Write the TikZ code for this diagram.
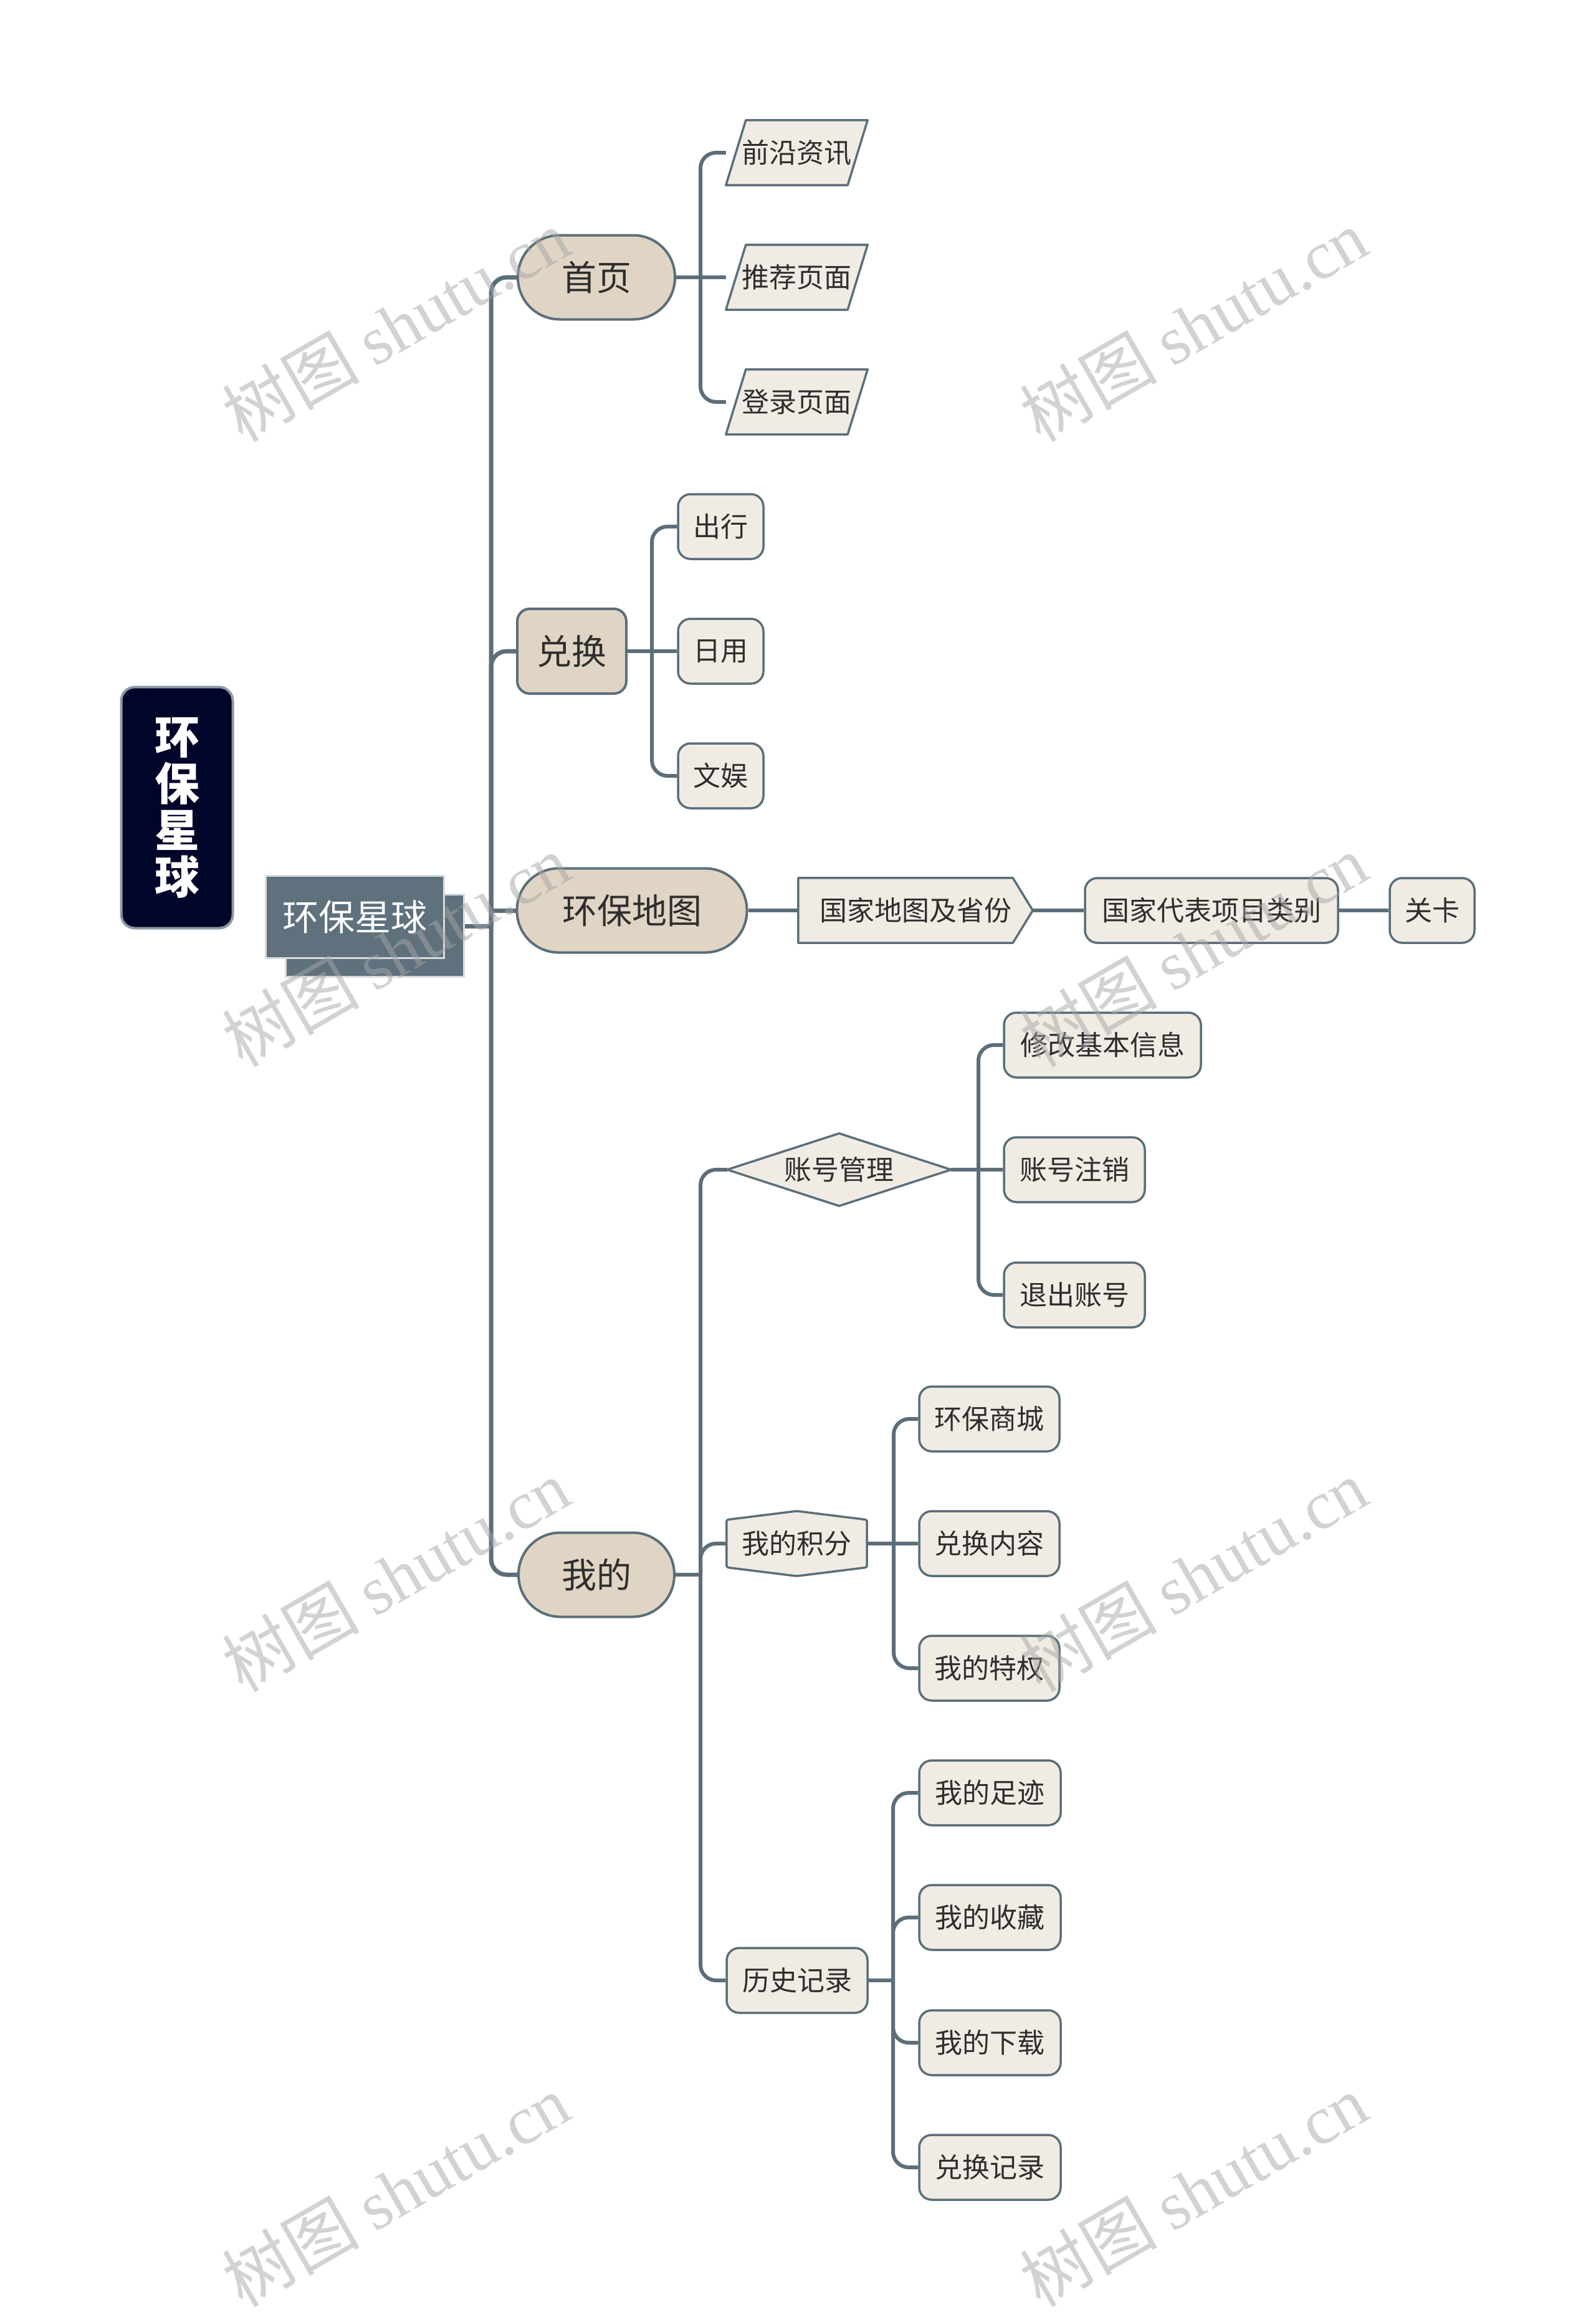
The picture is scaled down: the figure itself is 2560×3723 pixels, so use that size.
\documentclass[tikz,border=0pt]{standalone}
\usepackage{fontspec}
\setmainfont{Noto Sans CJK SC}
\newfontfamily\wmserif{Liberation Serif}
\usetikzlibrary{backgrounds}
\definecolor{slate}{HTML}{5B6E7A}
\definecolor{lonefill}{HTML}{E0D5C4}
\definecolor{ltwofill}{HTML}{F0ECE4}
\definecolor{navy}{HTML}{02052A}
\definecolor{txt}{HTML}{2E2E2E}
\definecolor{rootfill}{HTML}{5E717D}
\begin{document}
\begin{tikzpicture}[x=1pt,y=-1pt,
  conn/.style={draw=slate,line width=6pt,rounded corners=25pt},
  trunkline/.style={draw=slate,line width=7pt,rounded corners=25pt},
  lone/.style={fill=lonefill,draw=slate,line width=4pt,text=txt,font=\fontsize{56}{60}\selectfont,inner sep=0pt,minimum height=135pt},
  ltwo/.style={rectangle,rounded corners=20pt,fill=ltwofill,draw=slate,line width=3.5pt,text=txt,font=\fontsize{44}{48}\selectfont,minimum height=104pt,inner sep=0pt},
  ltwotxt/.style={text=txt,font=\fontsize{44}{48}\selectfont,minimum height=104pt,inner sep=0pt},
  shapeline/.style={fill=ltwofill,draw=slate,line width=3.5pt,line join=round},
  rootbox/.style={fill=rootfill,draw=white!75!rootfill,line width=3pt,minimum width=286pt,minimum height=132pt,inner sep=0pt,text=white,font=\fontsize{58}{62}\selectfont},
  wm/.style={text=black!35,text opacity=0.5,font=\fontsize{110}{120}\selectfont,rotate=30,inner sep=0pt}
]
\useasboundingbox (0,0) rectangle (2560,3723);
\begin{scope}[on background layer]
  \fill[white] (0,0) rectangle (2560,3723);
\end{scope}

% title
\node[fill=navy,draw=slate!70,line width=4pt,rounded corners=22pt,minimum width=179pt,minimum height=387pt,inner sep=0pt,text=white,align=center,font=\fontsize{72}{75}\selectfont\bfseries] (title) at (284,1296) {环\\保\\星\\球};

% root
\node[rootbox] (rootsh) at (601.5,1501) {};
\node[rootbox] (root) at (569.5,1471) {环保星球};

% level 1
\node[lone,rounded corners=67pt,minimum width=252pt] (home) at (957,445) {首页};
\node[lone,rounded corners=20pt,minimum width=175pt,minimum height=136pt] (exch) at (917.5,1045) {兑换};
\node[lone,rounded corners=67pt,minimum width=369pt] (map) at (1014,1461) {环保地图};
\node[lone,rounded corners=67pt,minimum width=250pt] (mine) at (957,2527) {我的};

% home children
\node[ltwotxt,minimum width=227pt] (news) at (1278.5,245) {前沿资讯};
\node[ltwotxt,minimum width=227pt] (recm) at (1278.5,445) {推荐页面};
\node[ltwotxt,minimum width=227pt] (login) at (1278.5,645) {登录页面};

% exchange children
\node[ltwo,minimum width=137pt] (travel) at (1156.5,845) {出行};
\node[ltwo,minimum width=137pt] (daily) at (1156.5,1045) {日用};
\node[ltwo,minimum width=137pt] (ent) at (1156.5,1245) {文娱};

% map chain
\node[ltwotxt,minimum width=376pt] (prov) at (1469,1461) {国家地图及省份};
\node[ltwo,minimum width=406pt] (cat) at (1944,1461) {国家代表项目类别};
\node[ltwo,minimum width=136pt] (level) at (2298,1461) {关卡};

% account
\node[ltwotxt,minimum width=359pt,minimum height=116pt] (acct) at (1346.5,1877) {账号管理};
\node[ltwo,minimum width=316pt] (edit) at (1769,1677) {修改基本信息};
\node[ltwo,minimum width=226pt] (cancel) at (1724,1877) {账号注销};
\node[ltwo,minimum width=226pt] (logout) at (1724,2078) {退出账号};

% points
\node[ltwotxt,minimum width=225pt] (pts) at (1278.5,2477) {我的积分};
\node[ltwo,minimum width=225pt] (mall) at (1587.5,2277) {环保商城};
\node[ltwo,minimum width=225pt] (cont) at (1587.5,2477) {兑换内容};
\node[ltwo,minimum width=225pt] (priv) at (1587.5,2677) {我的特权};

% history
\node[ltwo,minimum width=226pt] (hist) at (1279,3178) {历史记录};
\node[ltwo,minimum width=227pt] (foot) at (1588.5,2877) {我的足迹};
\node[ltwo,minimum width=227pt] (fav) at (1588.5,3077) {我的收藏};
\node[ltwo,minimum width=227pt] (down) at (1588.5,3278) {我的下载};
\node[ltwo,minimum width=227pt] (rec) at (1588.5,3478) {兑换记录};

\begin{scope}[on background layer]
  % special shapes
  \foreach \n in {news,recm,login}{
    \path[shapeline] ([xshift=32pt]\n.north west) -- (\n.north east) -- ([xshift=-32pt]\n.south east) -- (\n.south west) -- cycle;
  }
  \path[shapeline] (prov.north west) -- ([xshift=-32pt]prov.north east) -- (prov.east) -- ([xshift=-32pt]prov.south east) -- (prov.south west) -- cycle;
  \path[shapeline] (acct.west) -- (acct.north) -- (acct.east) -- (acct.south) -- cycle;
  \path[shapeline,rounded corners=3pt] (pts.north) -- ([yshift=-14pt]pts.north east) -- ([yshift=14pt]pts.south east) -- (pts.south) -- ([yshift=14pt]pts.south west) -- ([yshift=-14pt]pts.north west) -- cycle;

  % trunk
  \coordinate (tr) at (788,1486);
  \draw[trunkline] (rootsh.east |- tr) -- (tr);
  \draw[trunkline] (tr) |- (home.west);
  \draw[trunkline] (tr) |- (exch.west);
  \draw[trunkline] (map.west -| tr) -- (map.west);
  \draw[trunkline] (tr) |- (mine.west);

  % home
  \coordinate (hb) at (1124,445);
  \draw[conn] (home.east) -- (recm.west);
  \draw[conn] (hb) |- (news.west);
  \draw[conn] (hb) |- (login.west);

  % exchange
  \coordinate (eb) at (1046,1045);
  \draw[conn] (exch.east) -- (daily.west);
  \draw[conn] (eb) |- (travel.west);
  \draw[conn] (eb) |- (ent.west);

  % map chain
  \draw[conn] (map.east) -- (prov.west);
  \draw[conn] (prov.east) -- (cat.west);
  \draw[conn] (cat.east) -- (level.west);

  % mine
  \coordinate (mb) at (1124,2527);
  \draw[conn] (mine.east) -- (mb);
  \draw[conn] (mb) |- (acct.west);
  \draw[conn] (mb) |- (pts.west);
  \draw[conn] (mb) |- (hist.west);

  % account
  \coordinate (ab) at (1570,1877);
  \draw[conn] (acct.east) -- (cancel.west);
  \draw[conn] (ab) |- (edit.west);
  \draw[conn] (ab) |- (logout.west);

  % points
  \coordinate (pb) at (1434,2477);
  \draw[conn] (pts.east) -- (cont.west);
  \draw[conn] (pb) |- (mall.west);
  \draw[conn] (pb) |- (priv.west);

  % history
  \coordinate (hb2) at (1433,3178);
  \draw[conn] (hist.east) -- (hb2);
  \draw[conn] (hb2) |- (foot.west);
  \draw[conn] (hb2) |- (fav.west);
  \draw[conn] (hb2) |- (down.west);
  \draw[conn] (hb2) |- (rec.west);
\end{scope}

% watermarks
\foreach \wx in {635,1915}{
  \foreach \wy in {522,1525,2528,3515}{
    \node[wm] (wm-\wx-\wy) at (\wx,\wy) {树图 {\wmserif shutu.cn}};
  }
}
\end{tikzpicture}
\end{document}
